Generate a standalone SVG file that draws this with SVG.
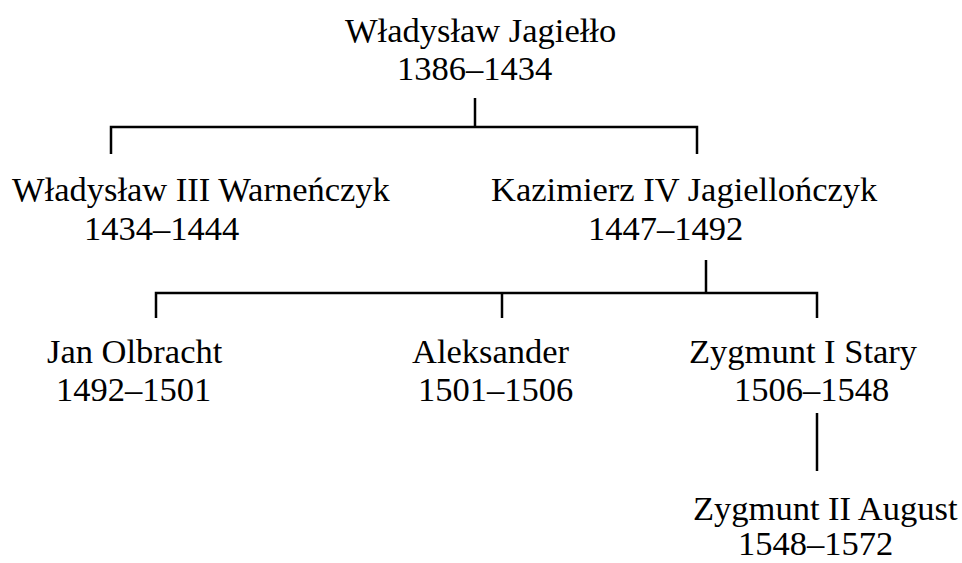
<svg xmlns="http://www.w3.org/2000/svg" width="962" height="563" viewBox="0 0 962 563">
<style>
text{font-family:"Liberation Serif","Times New Roman",serif;font-size:34.5px;fill:#000}
.c line,.c polyline{stroke:#000;stroke-width:2.5;fill:none}
</style>
<rect width="962" height="563" fill="#fff"/>
<g id="n-jagiello"><text x="345" y="42">Władysław Jagiełło</text><text x="397" y="80">1386–1434</text></g>
<g id="n-warnenczyk"><text x="12" y="201">Władysław III Warneńczyk</text><text x="84" y="240">1434–1444</text></g>
<g id="n-kazimierz"><text x="491" y="201">Kazimierz IV Jagiellończyk</text><text x="588" y="240">1447–1492</text></g>
<g id="n-olbracht"><text x="47" y="363">Jan Olbracht</text><text x="56" y="401">1492–1501</text></g>
<g id="n-aleksander"><text x="412" y="363">Aleksander</text><text x="418" y="401">1501–1506</text></g>
<g id="n-zygmunt1"><text x="689" y="363">Zygmunt I Stary</text><text x="734" y="401">1506–1548</text></g>
<g id="n-zygmunt2"><text x="693" y="520">Zygmunt II August</text><text x="738" y="555">1548–1572</text></g>
<g class="c" id="connectors">
<line x1="475" y1="98" x2="475" y2="127"/>
<polyline points="111,154 111,127 697,127 697,154"/>
<line x1="706" y1="260" x2="706" y2="293"/>
<polyline points="156,318 156,293 817,293 817,318"/>
<line x1="502" y1="293" x2="502" y2="318"/>
<line x1="817" y1="413" x2="817" y2="471"/>
</g>
</svg>
